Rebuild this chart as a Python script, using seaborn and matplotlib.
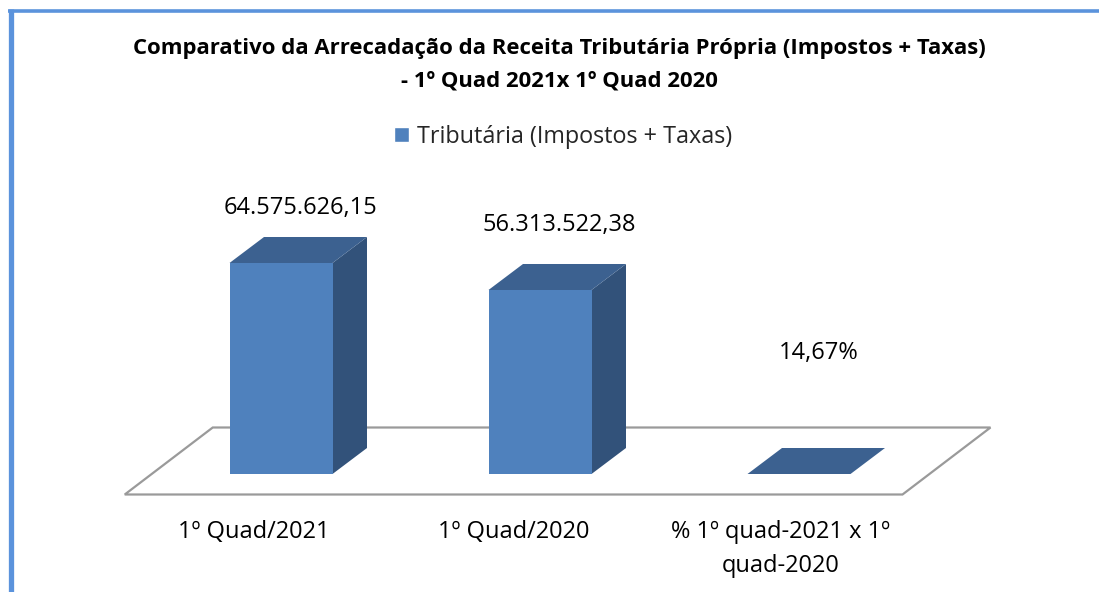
import matplotlib
matplotlib.use("Agg")
import matplotlib.pyplot as plt
import seaborn as sns
import pandas as pd
import numpy as np
from matplotlib.patches import Polygon, Rectangle
from matplotlib.lines import Line2D

# ---- data ----
categories = ["1º Quad/2021", "1º Quad/2020", "% 1º quad-2021 x 1º\nquad-2020"]
values = [64575626.15, 56313522.38, 14.67]
value_labels = ["64.575.626,15", "56.313.522,38", "14,67%"]
series_name = "Tributária (Impostos + Taxas)"
title = "Comparativo da Arrecadação da Receita Tributária Própria (Impostos + Taxas)\n- 1º Quad 2021x 1º Quad 2020"

# label placement (style): pixels above the back edge of each bar top
label_gap_px = [29, 39, 95]

df = pd.DataFrame({"cat": categories, "val": values, "serie": series_name})

sns.set_theme(style="white")
plt.rcParams["font.family"] = ["Open Sans", "DejaVu Sans"]

W, H = 1099, 592
fig = plt.figure(figsize=(W / 100, H / 100), dpi=100)
fig.patch.set_facecolor("white")

# axes placement in pixels
spacing = 259.0
x0_px = 281.0          # center of first bar front face
xlim = (-0.75, 2.75)
left_px = x0_px + xlim[0] * spacing
width_px = (xlim[1] - xlim[0]) * spacing
y0_px = 474.0          # baseline (bar bottoms)
px_per_unit = 211.0 / values[0]
ymax = 80e6
ymin = -30 / px_per_unit
top_px = y0_px - ymax * px_per_unit
bot_px = y0_px - ymin * px_per_unit
ax = fig.add_axes([left_px / W, 1 - bot_px / H, width_px / W, (bot_px - top_px) / H])

front_c = "#4F81BD"
top_c = "#3C6190"
side_c = "#32527A"

sns.barplot(data=df, x="cat", y="val", color=front_c, width=103 / spacing,
            saturation=1, ax=ax, edgecolor="none", linewidth=0, zorder=3)
ax.set_xlim(*xlim)
ax.set_ylim(ymin, ymax)
ax.set_xlabel("")
ax.set_ylabel("")
ax.set_xticks([])
ax.set_yticks([])


def dx(px):
    return px / spacing


def dy(px):
    return px / px_per_unit


bar_d = (34.5, 26.0)
floor_d = (88.0, 67.0)
front_gap = ((floor_d[0] - bar_d[0]) / 2, (floor_d[1] - bar_d[1]) / 2)

# floor
fl_y = -dy(front_gap[1])
fl_x0 = xlim[0] + dx(38)
fl_x1 = len(categories) - 1 + 0.5 + dx(-26)
floor = Polygon([(fl_x0, fl_y), (fl_x1, fl_y),
                 (fl_x1 + dx(floor_d[0]), fl_y + dy(floor_d[1])),
                 (fl_x0 + dx(floor_d[0]), fl_y + dy(floor_d[1]))],
                closed=True, facecolor="white", edgecolor="#9A9A9A", lw=1.6, zorder=1,
                clip_on=False)
ax.add_patch(floor)

# 3D faces from the seaborn bars
bars = [p for p in ax.patches if isinstance(p, Rectangle)][:len(values)]
for p in bars:
    x = p.get_x(); w = p.get_width(); h = p.get_height()
    top = [(x, h), (x + w, h), (x + w + dx(bar_d[0]), h + dy(bar_d[1])),
           (x + dx(bar_d[0]), h + dy(bar_d[1]))]
    side = [(x + w, 0), (x + w + dx(bar_d[0]), dy(bar_d[1])),
            (x + w + dx(bar_d[0]), h + dy(bar_d[1])), (x + w, h)]
    ax.add_patch(Polygon(side, closed=True, facecolor=side_c, edgecolor="none", zorder=2.9))
    ax.add_patch(Polygon(top, closed=True, facecolor=top_c, edgecolor="none", zorder=3.1))

# value labels
for i, (v, lab, g) in enumerate(zip(values, value_labels, label_gap_px)):
    xc = i + dx(bar_d[0] / 2) + dx(2)
    yl = v + dy(bar_d[1]) + dy(g)
    ax.text(xc, yl, lab, ha="center", va="center", fontsize=17, color="#000000")

# category labels along floor front
for i, c in enumerate(categories):
    ax.text(i - dx(front_gap[0]) + (dx(8) if "\n" in c else 0), fl_y - dy(26), c,
            ha="center", va="top", fontsize=17, color="#000000",
            multialignment="center", linespacing=1.55)

sns.despine(ax=ax, left=True, bottom=True)
ax.patch.set_alpha(0)

# title
fig.text(559 / W, 1 - 64.5 / H, title, ha="center", va="center", fontsize=15.9,
         fontweight="bold", color="#000000", linespacing=1.72)

# legend
leg = fig.legend(handles=[Rectangle((0, 0), 1, 1, facecolor=front_c)], labels=[series_name],
                 loc="center", bbox_to_anchor=(563 / W, 1 - 137 / H), frameon=False,
                 fontsize=16.8, handlelength=0.62, handleheight=0.62, handletextpad=0.35)

# chart border (left & top)
border_c = "#5B93DC"
fig.add_artist(Line2D([10.5 / W, 10.5 / W], [0, 1 - 9 / H], color=border_c, lw=3.8,
                      transform=fig.transFigure, solid_capstyle="butt"))
fig.add_artist(Line2D([8 / W, 1], [1 - 10.5 / H, 1 - 10.5 / H], color=border_c, lw=2.6,
                      transform=fig.transFigure, solid_capstyle="butt"))

fig.savefig("out.png", dpi=100, facecolor="white")
